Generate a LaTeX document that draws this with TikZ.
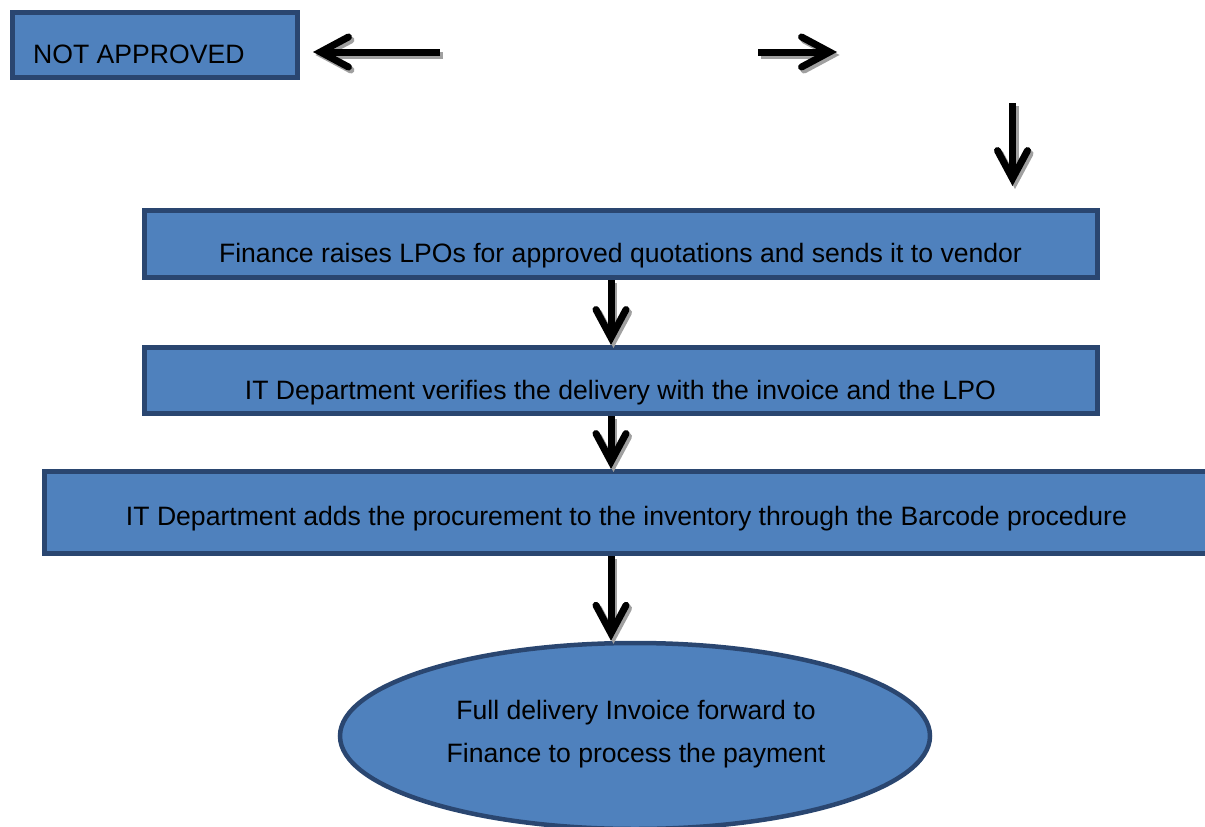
\documentclass[tikz,border=0pt]{standalone}
\usepackage{fontspec}
\setmainfont{Liberation Sans}
\usetikzlibrary{arrows.meta,shapes.geometric}
\definecolor{boxfill}{HTML}{4F81BD}
\definecolor{boxline}{HTML}{2A4670}
\definecolor{shadowgray}{HTML}{A0A0A0}
\begin{document}
\begin{tikzpicture}[x=1pt,y=-1pt,
  box/.style={draw=boxline, fill=boxfill, line width=5pt, rectangle, inner sep=0pt},
  lbl/.style={font=\fontsize{26.6}{30}\selectfont, inner sep=0pt, anchor=base},
  arrowbase/.style={line width=7pt,
    -{Straight Barb[length=28pt,width=30pt,line cap=round,line join=miter]}},
  flowarrow/.style={arrowbase, draw=black},
  flowshadow/.style={arrowbase, draw=shadowgray}]
\path[use as bounding box] (0,0) rectangle (1205,827);
\clip (0,0) rectangle (1205,827);
% boxes
\node[box, minimum width=285pt, minimum height=65pt] (na) at (155,45) {};
\node[lbl, anchor=base west] (nat) at (33,63) {NOT APPROVED};
\node[box, minimum width=953pt, minimum height=67pt] (b1) at (621,244) {};
\node[lbl] (t1) at (620.5,262.5) {Finance raises LPOs for approved quotations and sends it to vendor};
\node[box, minimum width=953pt, minimum height=66pt] (b2) at (621,380.5) {};
\node[lbl] (t2) at (620.5,399) {IT Department verifies the delivery with the invoice and the LPO};
\node[box, minimum width=1175pt, minimum height=82pt] (b3) at (632,512.5) {};
\node[lbl] (t3) at (626.5,525) {IT Department adds the procurement to the inventory through the Barcode procedure};
\node[ellipse, draw=boxline, fill=boxfill, line width=4.5pt, minimum width=590pt, minimum height=186pt, inner sep=0pt] (el) at (635,736) {};
\node[lbl] (e1) at (636,719) {Full delivery Invoice forward to};
\node[lbl] (e2) at (636,762) {Finance to process the payment};
% free arrow ends
\coordinate (lfrom) at (440,52);
\coordinate (lto) at (313,52);
\coordinate (rfrom) at (758,52);
\coordinate (rto) at (837,52);
\coordinate (dfrom) at (1012.5,103);
\coordinate (dto) at (1012.5,186);
\coordinate (ax) at (611,0);
% shadows
\begin{scope}[transform canvas={shift={(2.5pt,-3pt)}}]
\draw[flowshadow] (lfrom) -- (lto);
\draw[flowshadow] (rfrom) -- (rto);
\draw[flowshadow] (dfrom) -- (dto);
\draw[flowshadow] (b1.south -| ax) -- (b2.north -| ax);
\draw[flowshadow] (b2.south -| ax) -- (b3.north -| ax);
\draw[flowshadow] (b3.south -| ax) -- (el.north -| ax);
\end{scope}
% arrows
\draw[flowarrow] (lfrom) -- (lto);
\draw[flowarrow] (rfrom) -- (rto);
\draw[flowarrow] (dfrom) -- (dto);
\draw[flowarrow] (b1.south -| ax) -- (b2.north -| ax);
\draw[flowarrow] (b2.south -| ax) -- (b3.north -| ax);
\draw[flowarrow] (b3.south -| ax) -- (el.north -| ax);
\end{tikzpicture}
\end{document}
